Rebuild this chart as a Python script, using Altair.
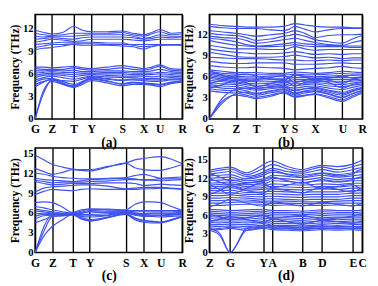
import altair as alt
import pandas as pd

LINE = "#3f52ec"
FONT = "Liberation Serif"

# ---------------- panel (a) ----------------
a_names = ["G", "Z", "T", "Y", "S", "X", "U", "R"]
a_pos = [0, 18, 41, 60, 93, 116, 133, 157]
a_bands = [
    [11.8, 11.5, 11.3, 11.5, 12.3, 11.8, 11.6, 11.6, 11.7, 11.4, 11.2, 11.5, 11.9, 11.4, 11.5],
    [11.4, 11.2, 11.1, 11.2, 11.4, 11.4, 11.4, 11.4, 11.5, 11.2, 11.0, 11.3, 11.6, 11.2, 11.3],
    [11.0, 10.9, 11.0, 11.0, 11.0, 11.1, 11.2, 11.2, 11.2, 11.0, 10.7, 10.9, 11.2, 11.0, 11.0],
    [10.6, 10.7, 10.8, 10.7, 10.6, 10.8, 10.9, 10.9, 10.9, 10.8, 10.6, 10.7, 10.9, 10.8, 10.9],
    [10.2, 10.4, 10.6, 10.5, 10.3, 10.4, 10.6, 10.6, 10.6, 10.5, 10.4, 10.5, 10.6, 10.6, 10.6],
    [9.9, 10.0, 10.1, 10.2, 10.2, 10.2, 10.2, 10.1, 10.1, 9.8, 9.6, 9.7, 9.8, 9.9, 9.9],
    [9.5, 9.7, 9.9, 9.9, 10.0, 10.0, 10.0, 9.9, 9.9, 9.9, 9.9, 9.9, 9.9, 9.9, 9.8],
    [9.2, 9.4, 9.5, 9.7, 9.9, 9.8, 9.8, 9.8, 9.7, 9.6, 9.3, 9.6, 9.8, 9.8, 9.8],
    [6.9, 6.9, 6.8, 6.9, 7.0, 6.8, 6.7, 6.9, 7.1, 6.9, 6.7, 6.9, 7.2, 6.7, 6.6],
    [6.7, 6.6, 6.6, 6.6, 6.8, 6.6, 6.5, 6.6, 6.8, 6.6, 6.5, 6.7, 7.0, 6.5, 6.4],
    [6.4, 6.4, 6.5, 6.4, 6.5, 6.3, 6.3, 6.4, 6.4, 6.3, 6.3, 6.4, 6.6, 6.3, 6.2],
    [6.1, 6.2, 6.3, 6.2, 6.2, 6.1, 6.1, 6.2, 6.2, 6.1, 6.1, 6.1, 6.2, 6.1, 6.0],
    [5.8, 6.0, 6.1, 6.0, 5.9, 6.0, 6.0, 6.0, 6.0, 5.9, 5.9, 5.9, 6.0, 5.9, 5.8],
    [5.5, 5.8, 5.9, 5.8, 5.6, 5.8, 5.9, 5.8, 5.7, 5.7, 5.7, 5.6, 5.7, 5.7, 5.6],
    [5.2, 5.5, 5.7, 5.5, 5.3, 5.5, 5.7, 5.6, 5.5, 5.5, 5.4, 5.4, 5.4, 5.5, 5.4],
    [4.9, 5.3, 5.4, 5.0, 4.6, 5.0, 5.5, 5.3, 5.1, 5.2, 5.1, 5.0, 5.0, 5.2, 5.2],
    [4.6, 5.0, 5.2, 4.7, 4.3, 4.8, 5.3, 5.0, 4.7, 4.9, 4.8, 4.7, 4.6, 4.9, 5.0],
    [4.3, 4.9, 5.3, 4.8, 4.4, 4.9, 5.4, 5.1, 4.6, 4.8, 4.7, 4.6, 4.5, 4.8, 5.1],
    [0.0, 3.8, 5.0, 4.6, 4.2, 4.6, 5.1, 4.8, 4.4, 4.6, 4.6, 4.5, 4.3, 4.7, 4.9],
    [0.0, 3.4, 5.2, 5.1, 5.0, 5.3, 5.6, 5.4, 5.2, 5.3, 5.3, 5.2, 5.2, 5.3, 5.3],
]

# ---------------- panel (b) ----------------
b_names = ["G", "Z", "T", "Y", "S", "X", "U", "R"]
b_pos = [0, 82, 144, 230, 262, 325, 409, 470]
b_bands = [
    [13.5, 13.3, 13.2, 13.1, 13.1, 13.1, 13.2, 13.4, 13.6, 13.4, 13.2, 13.1, 13.1, 13.0, 13.0],
    [13.2, 13.0, 12.9, 12.9, 12.9, 12.7, 12.6, 12.8, 13.2, 12.8, 12.4, 12.7, 12.9, 12.9, 12.9],
    [12.6, 12.4, 12.2, 12.0, 11.8, 12.0, 12.2, 12.4, 12.6, 12.2, 11.6, 11.9, 12.0, 12.0, 12.1],
    [12.2, 12.0, 11.9, 11.6, 11.2, 11.4, 11.8, 11.9, 12.1, 11.8, 11.3, 11.0, 10.8, 11.4, 11.9],
    [11.8, 11.6, 11.5, 11.2, 10.8, 11.0, 11.3, 11.4, 11.5, 11.2, 10.9, 10.6, 10.5, 10.9, 11.2],
    [11.5, 11.3, 11.0, 10.6, 10.4, 10.5, 10.7, 10.8, 10.9, 10.7, 10.6, 10.5, 10.4, 10.4, 10.4],
    [11.2, 10.8, 10.5, 10.4, 10.3, 10.3, 10.4, 10.5, 10.6, 10.4, 10.3, 10.3, 10.3, 10.2, 10.2],
    [10.5, 10.2, 10.0, 10.0, 10.0, 9.9, 9.9, 10.1, 10.3, 10.0, 9.8, 9.9, 9.9, 9.9, 9.9],
    [10.0, 9.7, 9.5, 9.4, 9.3, 9.3, 9.4, 9.5, 9.6, 9.4, 9.2, 9.3, 9.2, 9.3, 9.3],
    [9.5, 9.2, 8.9, 8.8, 8.8, 8.8, 8.9, 9.0, 9.1, 8.9, 8.7, 8.8, 8.6, 8.7, 8.7],
    [8.8, 8.7, 8.6, 8.6, 8.6, 8.5, 8.4, 8.4, 8.4, 8.3, 8.3, 8.4, 8.3, 8.4, 8.4],
    [8.2, 8.0, 7.9, 7.9, 8.0, 8.0, 8.0, 7.9, 7.8, 7.8, 7.8, 7.9, 8.0, 7.9, 7.9],
    [7.6, 7.4, 7.3, 7.3, 7.4, 7.3, 7.2, 7.1, 7.0, 7.1, 7.2, 7.3, 7.5, 7.3, 7.2],
    [7.0, 6.8, 6.6, 6.6, 6.6, 6.5, 6.5, 6.6, 6.7, 6.6, 6.5, 6.6, 6.8, 6.7, 6.6],
    [6.8, 6.5, 6.4, 6.3, 6.3, 6.3, 6.3, 6.3, 6.4, 6.3, 6.3, 6.4, 6.5, 6.4, 6.4],
    [6.6, 6.3, 6.1, 6.0, 6.0, 6.1, 6.1, 6.0, 6.2, 6.1, 6.0, 6.1, 6.2, 6.2, 6.1],
    [6.4, 6.1, 5.9, 5.8, 5.8, 5.8, 5.8, 5.8, 5.9, 5.9, 5.8, 5.9, 5.9, 5.9, 5.9],
    [6.2, 5.9, 5.7, 5.6, 5.5, 5.6, 5.6, 5.5, 5.6, 5.6, 5.6, 5.6, 5.6, 5.6, 5.7],
    [6.0, 5.7, 5.5, 5.4, 5.3, 5.3, 5.4, 5.3, 5.3, 5.4, 5.4, 5.3, 5.3, 5.4, 5.5],
    [5.8, 5.5, 5.3, 5.1, 5.0, 5.1, 5.2, 5.1, 5.0, 5.1, 5.2, 5.0, 4.9, 5.1, 5.3],
    [5.5, 5.3, 5.1, 4.9, 4.7, 4.8, 5.0, 4.8, 4.7, 4.9, 5.0, 4.7, 4.6, 4.8, 5.0],
    [5.2, 5.0, 4.9, 4.6, 4.4, 4.6, 4.8, 4.5, 4.4, 4.6, 4.7, 4.4, 4.2, 4.5, 4.8],
    [4.9, 4.7, 4.6, 4.3, 4.1, 4.3, 4.5, 4.2, 4.0, 4.3, 4.5, 4.1, 3.8, 4.2, 4.5],
    [4.6, 4.4, 4.3, 4.0, 3.7, 4.0, 4.3, 3.9, 3.7, 4.0, 4.2, 3.8, 3.4, 3.9, 4.3],
    [4.3, 4.1, 4.0, 3.7, 3.4, 3.7, 4.0, 3.7, 3.4, 3.7, 3.9, 3.5, 3.0, 3.6, 4.0],
    [4.0, 3.8, 3.7, 3.4, 3.1, 3.4, 3.8, 3.5, 3.2, 3.4, 3.6, 3.2, 2.7, 3.3, 3.8],
    [6.9, 6.2, 5.8, 5.5, 5.6, 5.9, 6.2, 5.7, 5.2, 5.5, 5.8, 5.5, 5.1, 5.6, 6.0],
    [5.0, 5.6, 6.2, 6.4, 6.1, 5.7, 5.5, 5.9, 6.3, 6.0, 5.6, 5.8, 6.1, 5.8, 5.4],
    [4.4, 4.9, 5.6, 5.2, 4.6, 5.0, 5.5, 5.1, 4.7, 5.2, 5.5, 5.2, 4.4, 4.9, 5.2],
    [0.0, 2.6, 3.4, 3.2, 2.9, 3.2, 3.7, 3.4, 3.1, 3.3, 3.5, 3.0, 2.5, 3.1, 3.7],
    [0.0, 2.3, 3.6, 3.8, 3.6, 3.9, 4.2, 4.0, 3.6, 3.9, 4.0, 3.6, 3.1, 3.6, 4.1],
    [0.0, 3.0, 4.2, 4.4, 4.3, 4.5, 4.6, 4.3, 4.1, 4.3, 4.4, 4.0, 3.6, 4.0, 4.4],
]

# ---------------- panel (c) ----------------
c_names = ["G", "Z", "T", "Y", "S", "X", "U", "R"]
c_pos = [0, 56, 121, 176, 292, 350, 405, 474]
c_bands = [
    [14.8, 14.1, 13.4, 13.0, 12.7, 12.6, 12.6, 13.1, 13.6, 14.1, 14.3, 14.5, 14.6, 14.2, 13.5],
    [12.8, 12.3, 11.9, 12.2, 12.6, 12.5, 12.4, 13.0, 13.6, 12.9, 12.6, 12.5, 12.5, 12.9, 13.4],
    [12.1, 11.9, 11.6, 11.4, 11.3, 11.2, 11.2, 11.3, 11.4, 11.7, 11.9, 11.6, 11.3, 11.4, 11.5],
    [11.3, 11.1, 11.0, 10.9, 10.8, 10.9, 11.1, 11.2, 11.3, 11.2, 11.0, 11.1, 11.2, 11.2, 11.2],
    [11.0, 10.8, 10.6, 10.7, 10.7, 10.7, 10.8, 10.9, 11.1, 11.1, 11.1, 11.0, 10.9, 11.0, 11.1],
    [10.8, 10.5, 10.3, 10.4, 10.5, 10.5, 10.5, 10.6, 10.6, 10.5, 10.2, 10.3, 10.4, 10.3, 10.2],
    [9.2, 9.8, 10.0, 10.1, 10.2, 10.3, 10.3, 10.1, 9.7, 9.8, 9.9, 9.9, 9.9, 9.8, 9.7],
    [8.8, 9.3, 9.6, 9.5, 9.4, 9.6, 9.7, 9.6, 9.6, 9.6, 9.7, 9.7, 9.8, 9.7, 9.6],
    [7.6, 7.7, 7.6, 6.9, 6.1, 6.5, 6.6, 6.6, 6.5, 7.3, 7.7, 7.7, 7.6, 7.0, 6.4],
    [7.0, 6.8, 6.5, 6.2, 6.0, 6.3, 6.6, 6.5, 6.4, 6.4, 6.4, 6.4, 6.4, 6.4, 6.4],
    [6.6, 6.4, 6.2, 6.0, 5.9, 6.1, 6.4, 6.3, 6.3, 6.2, 6.2, 6.2, 6.2, 6.2, 6.3],
    [6.3, 6.2, 6.0, 5.9, 5.9, 6.0, 6.2, 6.1, 6.2, 6.0, 5.9, 6.0, 6.0, 6.0, 6.1],
    [5.9, 6.0, 5.9, 5.8, 5.8, 5.8, 5.8, 5.9, 6.1, 5.9, 5.7, 5.7, 5.7, 5.8, 5.9],
    [5.5, 5.8, 5.8, 5.7, 5.8, 5.5, 5.4, 5.6, 6.0, 5.7, 5.5, 5.5, 5.4, 5.5, 5.6],
    [5.1, 5.6, 5.7, 5.7, 5.8, 5.3, 5.0, 5.4, 5.9, 5.3, 4.9, 4.8, 4.6, 5.0, 5.5],
    [4.5, 5.0, 5.5, 5.6, 5.7, 5.2, 4.8, 5.3, 5.8, 5.0, 4.6, 4.5, 4.5, 4.9, 5.4],
    [0.0, 3.9, 5.9, 5.9, 5.9, 6.0, 6.2, 6.1, 6.1, 6.0, 5.8, 5.9, 5.9, 5.9, 6.0],
    [0.0, 3.2, 5.5, 5.6, 5.8, 5.6, 5.6, 5.7, 6.0, 5.8, 5.6, 5.6, 5.6, 5.7, 5.8],
    [0.0, 2.5, 4.0, 5.0, 5.8, 5.1, 4.8, 5.3, 5.9, 5.2, 4.8, 4.7, 4.6, 5.0, 5.5],
]

# ---------------- panel (d) ----------------
d_names = ["Z", "G", "Y", "A", "B", "D", "E", "C"]
d_pos = [0, 66, 171, 200, 296, 358, 456, 486]
d_bands = [
    [13.3, 13.6, 13.8, 12.9, 14.2, 14.6, 14.8, 13.9, 13.4, 13.8, 14.1, 13.9, 14.3, 14.6, 14.9],
    [13.0, 13.3, 13.5, 12.6, 13.6, 14.0, 14.2, 13.5, 13.1, 13.5, 13.8, 13.4, 13.9, 14.1, 14.3],
    [12.7, 12.9, 13.1, 12.3, 13.0, 13.4, 13.6, 13.1, 12.8, 13.1, 13.4, 13.0, 13.4, 13.6, 13.7],
    [12.4, 12.5, 12.6, 11.9, 12.4, 12.8, 13.0, 12.7, 12.5, 12.7, 12.9, 12.6, 12.9, 13.0, 13.1],
    [12.0, 12.1, 12.2, 11.6, 11.9, 12.2, 12.5, 12.3, 12.1, 12.3, 12.5, 12.2, 12.4, 12.5, 12.6],
    [11.6, 11.7, 11.8, 11.3, 11.5, 11.7, 12.0, 11.9, 11.7, 11.9, 12.1, 11.8, 12.0, 12.0, 12.1],
    [11.2, 11.3, 11.4, 11.0, 11.1, 11.3, 11.6, 11.5, 11.3, 11.5, 11.6, 11.4, 11.6, 11.6, 11.6],
    [10.9, 11.0, 11.1, 10.7, 10.8, 10.9, 11.1, 11.0, 10.9, 11.0, 11.1, 11.0, 11.2, 11.2, 11.2],
    [10.6, 10.7, 10.8, 10.4, 10.5, 10.6, 10.7, 10.6, 10.5, 10.6, 10.7, 10.6, 10.8, 10.8, 10.8],
    [10.3, 10.4, 10.5, 10.1, 10.2, 10.3, 10.3, 10.2, 10.1, 10.2, 10.3, 10.2, 10.4, 10.4, 10.4],
    [10.0, 10.0, 10.1, 9.7, 9.8, 9.9, 9.9, 9.8, 9.7, 9.8, 9.8, 9.8, 10.0, 10.0, 10.0],
    [9.6, 9.6, 9.7, 9.4, 9.4, 9.5, 9.5, 9.4, 9.3, 9.4, 9.4, 9.4, 9.6, 9.6, 9.6],
    [9.2, 9.2, 9.3, 9.1, 9.0, 9.1, 9.1, 9.0, 8.9, 9.0, 9.0, 9.0, 9.2, 9.2, 9.2],
    [8.8, 8.8, 8.9, 8.8, 8.6, 8.7, 8.7, 8.6, 8.5, 8.6, 8.6, 8.6, 8.8, 8.8, 8.8],
    [8.4, 8.4, 8.5, 8.5, 8.3, 8.3, 8.3, 8.3, 8.2, 8.2, 8.2, 8.3, 8.4, 8.4, 8.4],
    [8.0, 8.0, 8.1, 8.2, 8.1, 8.0, 7.9, 8.0, 7.9, 7.9, 7.9, 8.0, 8.0, 8.0, 8.0],
    [7.6, 7.6, 7.7, 7.8, 7.8, 7.7, 7.6, 7.7, 7.6, 7.6, 7.6, 7.7, 7.6, 7.6, 7.6],
    [11.0, 10.2, 9.4, 10.4, 11.3, 10.8, 10.5, 10.9, 11.4, 10.8, 10.3, 10.7, 11.0, 10.6, 10.2],
    [9.4, 10.0, 10.8, 10.0, 9.6, 10.0, 10.3, 10.0, 9.6, 10.1, 10.6, 10.2, 9.8, 10.1, 10.4],
    [12.8, 12.2, 11.6, 12.0, 12.7, 13.1, 13.3, 12.6, 12.2, 12.5, 12.8, 12.4, 12.7, 13.2, 13.5],
    [11.9, 11.4, 10.9, 11.2, 11.7, 12.0, 12.2, 11.6, 11.2, 11.5, 11.8, 11.5, 11.8, 12.1, 12.3],
    [7.4, 7.9, 8.6, 8.0, 7.5, 7.8, 8.2, 7.9, 7.5, 7.8, 8.1, 7.8, 7.5, 7.7, 7.9],
    [7.0, 6.9, 6.8, 6.9, 7.0, 6.9, 6.8, 6.8, 6.7, 6.8, 6.9, 6.8, 6.8, 6.8, 6.9],
    [6.7, 6.6, 6.5, 6.6, 6.7, 6.6, 6.5, 6.5, 6.4, 6.5, 6.6, 6.5, 6.5, 6.5, 6.6],
    [6.4, 6.3, 6.2, 6.3, 6.4, 6.3, 6.2, 6.2, 6.1, 6.2, 6.3, 6.2, 6.2, 6.2, 6.3],
    [6.1, 6.0, 5.9, 6.0, 6.1, 6.0, 5.9, 5.9, 5.8, 5.9, 6.0, 5.9, 5.9, 5.9, 6.0],
    [5.8, 5.7, 5.6, 5.7, 5.9, 5.8, 5.6, 5.6, 5.5, 5.6, 5.7, 5.6, 5.7, 5.7, 5.7],
    [5.5, 5.4, 5.4, 5.4, 5.6, 5.5, 5.3, 5.3, 5.2, 5.3, 5.4, 5.3, 5.4, 5.4, 5.4],
    [5.2, 5.1, 5.1, 5.1, 5.3, 5.2, 5.0, 5.0, 4.9, 5.0, 5.1, 5.0, 5.1, 5.1, 5.1],
    [4.9, 4.8, 4.9, 4.8, 5.0, 4.9, 4.7, 4.7, 4.6, 4.7, 4.8, 4.7, 4.8, 4.8, 4.8],
    [4.6, 4.5, 4.6, 4.5, 4.7, 4.6, 4.4, 4.4, 4.3, 4.4, 4.5, 4.4, 4.5, 4.5, 4.5],
    [4.3, 4.2, 4.3, 4.2, 4.4, 4.3, 4.1, 4.1, 4.0, 4.1, 4.2, 4.1, 4.2, 4.2, 4.2],
    [4.0, 3.9, 4.1, 3.9, 4.1, 4.0, 3.9, 3.8, 3.7, 3.8, 3.9, 3.8, 3.9, 3.9, 3.9],
    [3.7, 3.7, 3.9, 3.6, 3.9, 3.8, 3.7, 3.6, 3.5, 3.6, 3.7, 3.6, 3.7, 3.6, 3.6],
    [6.2, 5.8, 5.3, 5.6, 6.0, 5.7, 5.5, 5.8, 6.0, 5.7, 5.4, 5.6, 5.9, 6.1, 6.3],
    [5.0, 5.4, 5.8, 5.3, 4.8, 5.1, 5.4, 5.0, 4.6, 4.9, 5.2, 5.0, 4.7, 4.9, 5.1],
    [3.6, 2.8, 0.0, 3.6, 4.0, 4.1, 4.0, 3.9, 3.8, 3.9, 4.0, 3.9, 3.9, 3.8, 3.8],
    [3.9, 3.1, 0.0, 3.9, 4.3, 4.4, 4.3, 4.2, 4.1, 4.2, 4.3, 4.2, 4.2, 4.1, 4.1],
]


def panel(names, pos, bands, ymax, yticks, label, w, h):
    xs = []
    for i in range(len(pos) - 1):
        xs += [pos[i], (pos[i] + pos[i + 1]) / 2]
    xs.append(pos[-1])
    rows = []
    for b, vals in enumerate(bands):
        for x, v in zip(xs, vals):
            rows.append({"k": x, "f": v, "band": b})
    df = pd.DataFrame(rows)
    expr = f"{names}[indexof({pos}, datum.value)]"
    x = alt.X(
        "k:Q",
        scale=alt.Scale(domain=[0, pos[-1]], nice=False, zero=False),
        axis=alt.Axis(
            values=pos, labelExpr=expr, title=label, grid=True,
            gridColor="black", gridWidth=1.4, gridOpacity=1, domain=False,
            ticks=False, labelFlush=False, labelOverlap=False,
            labelFont=FONT, labelFontWeight="bold", labelFontSize=12,
            labelColor="black", labelPadding=5,
            titleFont=FONT, titleFontWeight="bold", titleFontSize=14,
            titleColor="black", titlePadding=1,
        ),
    )
    y = alt.Y(
        "f:Q",
        scale=alt.Scale(domain=[0, ymax], nice=False),
        axis=alt.Axis(
            values=yticks, title="Frequency (THz)", grid=False, domain=False,
            ticks=False, labelFont=FONT, labelFontWeight="bold",
            labelFontSize=11, labelColor="black", labelPadding=2,
            titleFont=FONT, titleFontWeight="bold", titleFontSize=12,
            titleColor="black", titlePadding=1,
        ),
    )
    return (
        alt.Chart(df)
        .mark_line(interpolate="monotone", color=LINE, strokeWidth=1.2, clip=True)
        .encode(x=x, y=y, detail="band:N")
        .properties(width=w, height=h)
    )


pa = panel(a_names, a_pos, a_bands, 13.9, [0, 3, 6, 9, 12], "(a)", 152, 108)
pb = panel(b_names, b_pos, b_bands, 14.9, [0, 3, 6, 9, 12], "(b)", 158, 108)
pc = panel(c_names, c_pos, c_bands, 15.9, [0, 3, 6, 9, 12, 15], "(c)", 152, 108)
pd_ = panel(d_names, d_pos, d_bands, 16.9, [0, 3, 6, 9, 12, 15], "(d)", 158, 108)

chart = (
    alt.concat(pa, pb, pc, pd_, columns=2, spacing={"row": 30, "column": 28}, bounds="flush")
    .properties(padding={"left": 0, "top": 1, "right": 2, "bottom": 0}, background="white")
    .configure_view(stroke="black", strokeWidth=1.5)
)

chart.save("out.html", embed_options={"renderer": "svg", "actions": False})
